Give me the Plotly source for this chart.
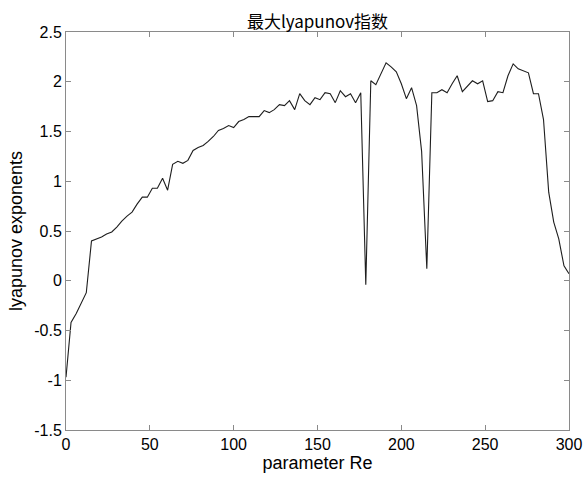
import plotly.graph_objects as go

# Reynolds-number grid (100 samples between 0 and 300)
re_values = [
    0.0, 3.0, 6.1, 9.1, 12.1, 15.2, 18.2, 21.2, 24.2, 27.3,
    30.3, 33.3, 36.4, 39.4, 42.4, 45.5, 48.5, 51.5, 54.5, 57.6,
    60.6, 63.6, 66.7, 69.7, 72.7, 75.8, 78.8, 81.8, 84.8, 87.9,
    90.9, 93.9, 97.0, 100.0, 103.0, 106.1, 109.1, 112.1, 115.2, 118.2,
    121.2, 124.2, 127.3, 130.3, 133.3, 136.4, 139.4, 142.4, 145.5, 148.5,
    151.5, 154.5, 157.6, 160.6, 163.6, 166.7, 169.7, 172.7, 175.8, 178.8,
    181.8, 184.8, 187.9, 190.9, 193.9, 197.0, 200.0, 203.0, 206.1, 209.1,
    212.1, 215.2, 218.2, 221.2, 224.2, 227.3, 230.3, 233.3, 236.4, 239.4,
    242.4, 245.5, 248.5, 251.5, 254.5, 257.6, 260.6, 263.6, 266.7, 269.7,
    272.7, 275.8, 278.8, 281.8, 284.8, 287.9, 290.9, 293.9, 297.0, 300.0,
]

# Largest Lyapunov exponent at each Re
lyapunov_max = [
    -0.97, -0.42, -0.33, -0.23, -0.12, 0.40, 0.42, 0.44, 0.47, 0.49,
    0.54, 0.60, 0.65, 0.69, 0.77, 0.84, 0.84, 0.93, 0.93, 1.03,
    0.91, 1.17, 1.20, 1.18, 1.21, 1.31, 1.34, 1.36, 1.40, 1.45,
    1.51, 1.53, 1.56, 1.54, 1.60, 1.62, 1.65, 1.65, 1.65, 1.71,
    1.69, 1.72, 1.77, 1.76, 1.81, 1.72, 1.88, 1.81, 1.77, 1.84,
    1.82, 1.89, 1.88, 1.79, 1.91, 1.85, 1.88, 1.79, 1.89, -0.04,
    2.01, 1.97, 2.08, 2.19, 2.15, 2.10, 1.98, 1.83, 1.94, 1.76,
    1.30, 0.12, 1.89, 1.89, 1.92, 1.89, 1.98, 2.06, 1.90, 1.95,
    2.01, 1.98, 2.01, 1.80, 1.81, 1.90, 1.89, 2.06, 2.18, 2.13,
    2.11, 2.09, 1.88, 1.88, 1.62, 0.89, 0.59, 0.42, 0.15, 0.07,
]

x_ticks = [0, 50, 100, 150, 200, 250, 300]
y_ticks = [-1.5, -1, -0.5, 0, 0.5, 1, 1.5, 2, 2.5]
y_tick_text = ["-1.5", "-1", "-0.5", "0", "0.5", "1", "1.5", "2", "2.5"]

FONT = "Liberation Sans, Arial, sans-serif"
AXIS_GRAY = "#8a8a8a"

fig = go.Figure(
    go.Scatter(
        x=re_values,
        y=lyapunov_max,
        mode="lines",
        line=dict(color="#1e1e1e", width=1.1),
        hoverinfo="x+y",
    )
)

axis_common = dict(
    showline=True,
    linecolor=AXIS_GRAY,
    linewidth=1,
    mirror="ticks",
    ticks="inside",
    ticklen=5,
    tickwidth=1,
    tickcolor=AXIS_GRAY,
    showgrid=False,
    zeroline=False,
    automargin=False,
    tickfont=dict(family=FONT, size=16, color="#000000"),
)

fig.update_layout(
    width=583,
    height=477,
    margin=dict(l=66, r=14, t=32, b=47),
    paper_bgcolor="white",
    plot_bgcolor="white",
    showlegend=False,
    title=dict(
        text="最大lyapunov指数",
        x=0.5,
        xref="paper",
        xanchor="center",
        y=1,
        yref="paper",
        yanchor="bottom",
        pad=dict(b=4),
        font=dict(family="Noto Sans CJK SC, " + FONT, size=17, color="#000000"),
    ),
    xaxis=dict(
        range=[0, 300],
        tickvals=x_ticks,
        title=dict(text="parameter Re", standoff=4,
                   font=dict(family=FONT, size=18, color="#000000")),
        **axis_common,
    ),
    yaxis=dict(
        range=[-1.5, 2.5],
        tickvals=y_ticks,
        ticktext=y_tick_text,
        title=dict(text="lyapunov exponents", standoff=6,
                   font=dict(family=FONT, size=18, color="#000000")),
        **axis_common,
    ),
)

fig.write_html("out.html")
